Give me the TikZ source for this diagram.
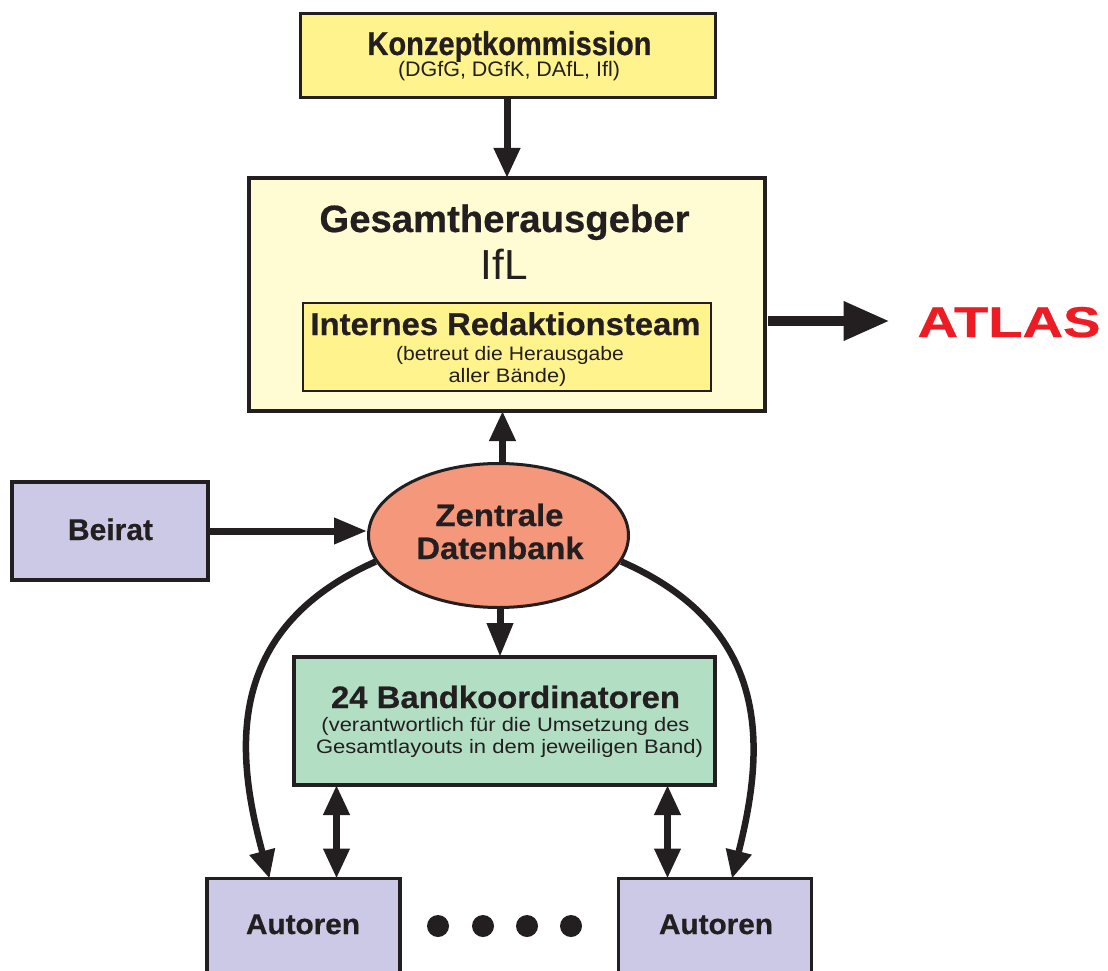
\documentclass[tikz,border=0pt]{standalone}
\usepackage{fontspec}
\setmainfont{Liberation Sans}[BoldFeatures={FakeBold=0.6}]
\usepackage{graphicx}
\usetikzlibrary{arrows.meta,shapes.geometric}
\definecolor{ink}{HTML}{231F20}
\definecolor{kyel}{HTML}{FFF38D}
\definecolor{gyel}{HTML}{FFFBD2}
\definecolor{lav}{HTML}{CBC9E5}
\definecolor{salm}{HTML}{F5977A}
\definecolor{mint}{HTML}{B2DEC4}
\definecolor{atred}{HTML}{ED1C24}
\newcommand\fw[2]{\resizebox{#1pt}{\height}{#2}}
\newcommand\fsz[1]{\fontsize{#1}{#1}\selectfont}
\begin{document}
\begin{tikzpicture}[x=1pt,y=-1pt,
  box/.style={draw=ink, rectangle, inner sep=0pt, outer sep=0pt},
  txt/.style={anchor=base, inner sep=0pt, outer sep=0pt, text=ink},
  arr/.style={draw=ink, line width=7pt, -{Triangle[length=30pt,width=25pt]}},
  bigarr/.style={draw=ink, line width=10pt, -{Triangle[length=46pt,width=37pt]}},
  dbl/.style={draw=ink, line width=7pt, {Triangle[length=30pt,width=25pt]}-{Triangle[length=30pt,width=25pt]}},
  curv/.style={draw=ink, line width=6.5pt, -{Triangle[length=28pt,width=25pt]}},
  dotn/.style={circle, fill=ink, minimum size=22pt, inner sep=0pt}]
\clip (0,0) rectangle (1108,971);
\fill[white] (0,0) rectangle (1108,971);

% boxes
\node[box, fill=kyel, line width=2.5pt, minimum width=415pt, minimum height=84pt] (konzept) at (508,55.5) {};
\node[box, fill=gyel, line width=3.5pt, minimum width=516pt, minimum height=233pt] (gesamt) at (507,294.5) {};
\node[box, fill=kyel, line width=2pt, minimum width=408pt, minimum height=88pt] (intern) at (507,347) {};
\node[box, fill=lav, line width=3.5pt, minimum width=196pt, minimum height=98pt] (beirat) at (110,531) {};
\node[ellipse, draw=ink, fill=salm, line width=3pt, minimum width=260pt, minimum height=144pt, inner sep=0pt] (db) at (498.5,535.5) {};
\node[box, fill=mint, line width=3.5pt, minimum width=421pt, minimum height=128pt] (band) at (504.5,721) {};
\node[box, fill=lav, line width=3.5pt, minimum width=193pt, minimum height=120pt] (autL) at (303.5,938.5) {};
\node[box, fill=lav, line width=3.5pt, minimum width=193pt, minimum height=120pt] (autR) at (715,938.5) {};

% texts
\node[txt, font=\fsz{33}\bfseries] (kT1) at (509.5,55) {\fw{284}{Konzeptkommission}};
\node[txt, font=\fsz{21}] (kT2) at (509,77) {\fw{222}{(DGfG, DGfK, DAfL, Ifl)}};
\node[txt, font=\fsz{38}\bfseries] (gT1) at (504.5,232) {\fw{370}{Gesamtherausgeber}};
\node[txt, font=\fsz{42}] (gT2) at (504,279) {\fw{47}{IfL}};
\node[txt, font=\fsz{31.5}\bfseries] (iT1) at (505.5,335) {\fw{390}{Internes Redaktionsteam}};
\node[txt, font=\fsz{19.5}] (iT2) at (510,360) {\fw{228}{(betreut die Herausgabe}};
\node[txt, font=\fsz{19.5}] (iT3) at (507.5,382) {\fw{118}{aller Bände)}};
\node[txt, text=atred, font=\fsz{43}\bfseries] (atlas) at (1009,337) {\fw{183}{ATLAS}};
\node[txt, font=\fsz{30}\bfseries] (bT) at (110.5,540) {\fw{85}{Beirat}};
\node[txt, font=\fsz{31}\bfseries] (dT1) at (499.5,526) {\fw{128}{Zentrale}};
\node[txt, font=\fsz{31}\bfseries] (dT2) at (500,559) {\fw{167}{Datenbank}};
\node[txt, font=\fsz{31}\bfseries] (nT1) at (505.5,708) {\fw{349}{24 Bandkoordinatoren}};
\node[txt, font=\fsz{19.5}] (nT2) at (505.5,731) {\fw{368}{(verantwortlich für die Umsetzung des}};
\node[txt, font=\fsz{19.5}] (nT3) at (509.5,753) {\fw{387}{Gesamtlayouts in dem jeweiligen Band)}};
\node[txt, font=\fsz{28.5}\bfseries] (aT1) at (303,934) {\fw{114}{Autoren}};
\node[txt, font=\fsz{28.5}\bfseries] (aT2) at (716,934) {\fw{114}{Autoren}};

% dots
\node[dotn] (d1) at (438,926) {};
\node[dotn] (d2) at (483,926) {};
\node[dotn] (d3) at (527,926) {};
\node[dotn] (d4) at (571,926) {};

% connectors
\draw[arr] ([xshift=-1pt]konzept.south) -- ([xshift=-1pt]konzept.south |- gesamt.north);
\draw[arr] ([xshift=4pt]db.north) -- ([xshift=4pt]db.north |- gesamt.south);
\draw[arr, -{Triangle[length=33pt,width=25pt]}] (beirat.east) -- (beirat.east -| db.west);
\draw[arr, -{Triangle[length=34pt,width=25pt]}] ([xshift=1.5pt]db.south) -- ([xshift=1.5pt]db.south |- band.north);
\draw[bigarr, shorten <=3pt, shorten >=28pt] ([yshift=-26.5pt]gesamt.east) -- ([yshift=-26.5pt]gesamt.east -| atlas.west);
\draw[curv] (db.192) .. controls (222,630) and (236,755) .. ([xshift=-34pt]autL.north);
\draw[curv] (db.-12) .. controls (777,630) and (763,755) .. ([xshift=17pt]autR.north);
\draw[dbl] ([xshift=-47.5pt]autR.north |- band.south) -- ([xshift=-47.5pt]autR.north);
\draw[dbl] ([xshift=33pt]autL.north |- band.south) -- ([xshift=33pt]autL.north);
\end{tikzpicture}
\end{document}
